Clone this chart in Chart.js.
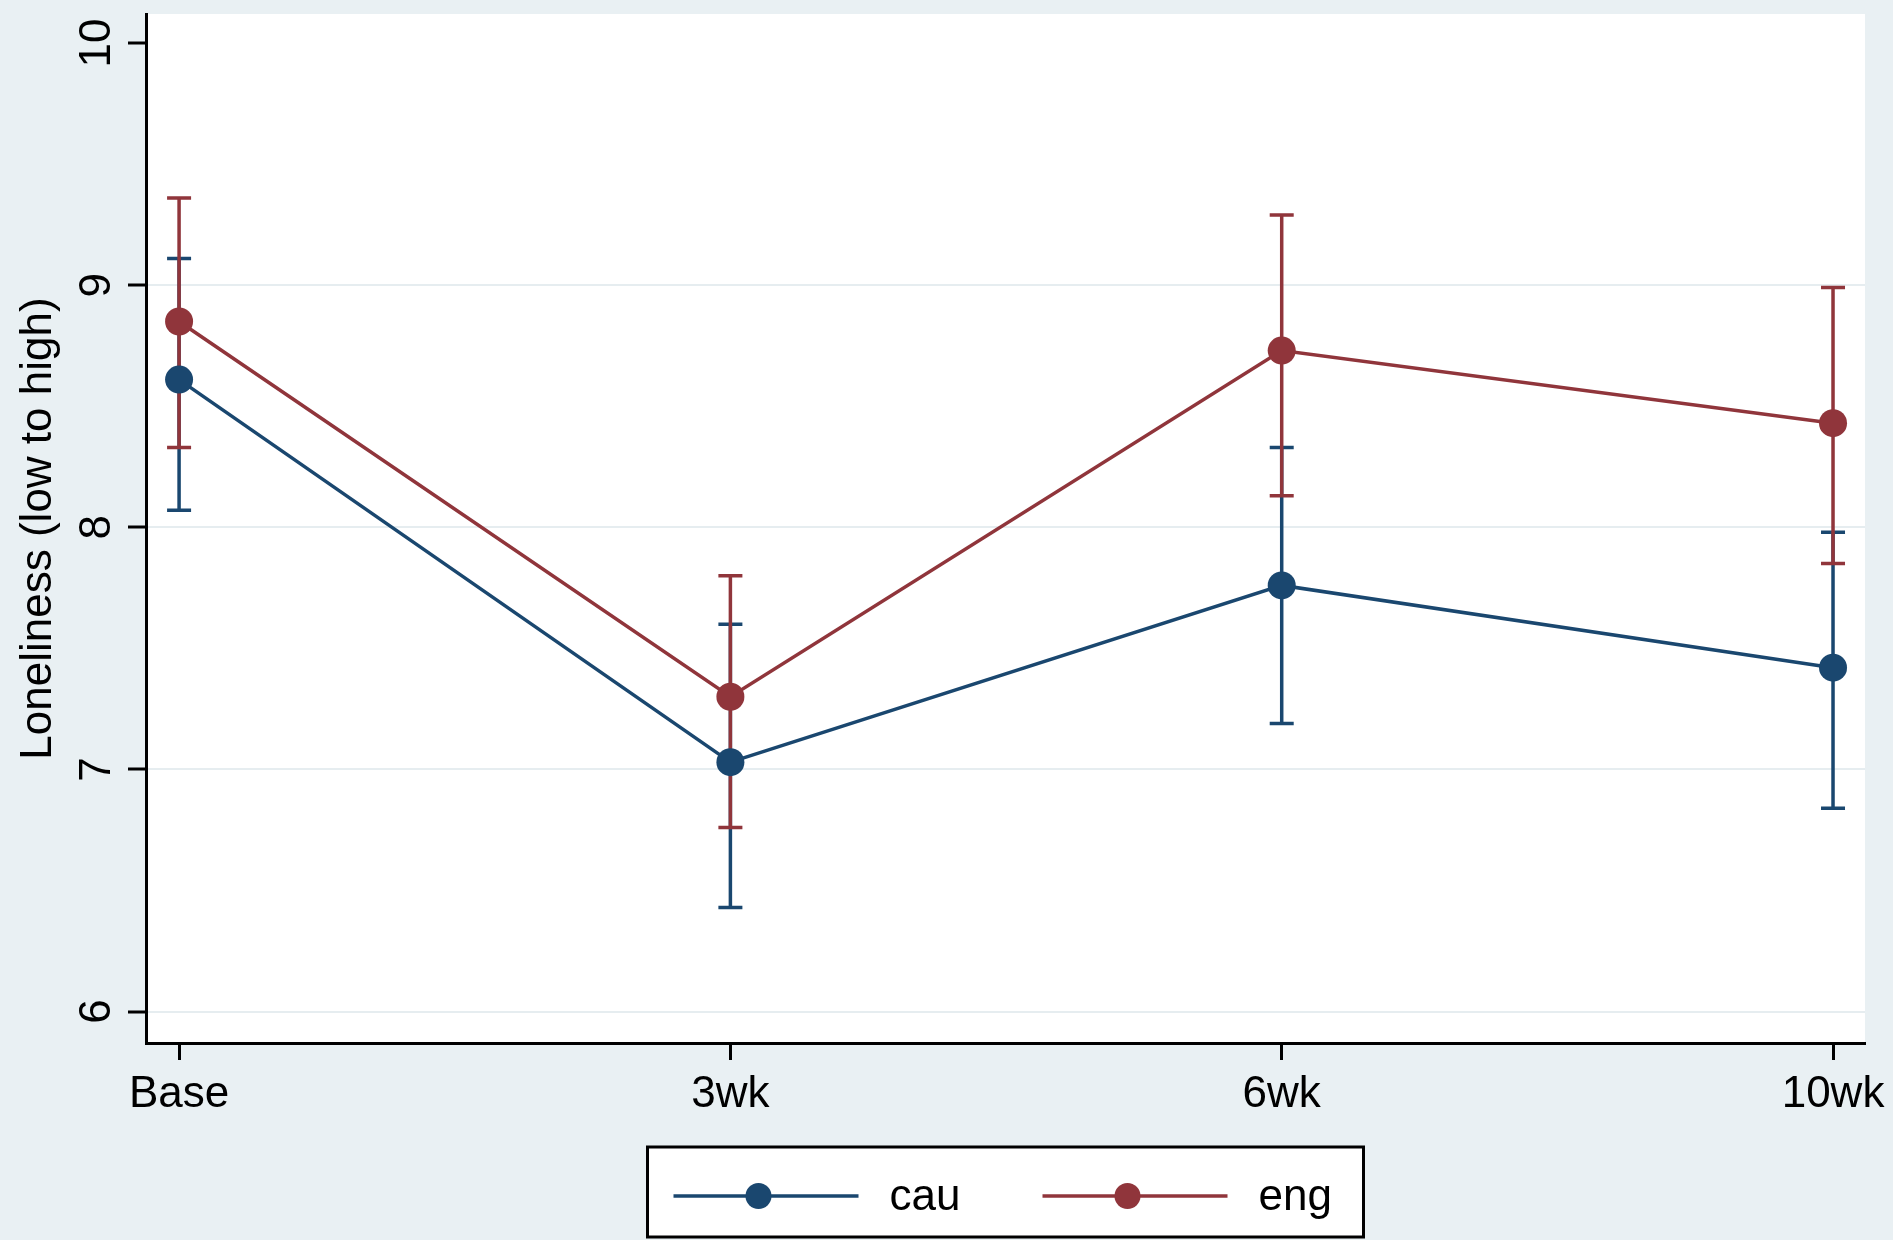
<!DOCTYPE html>
<html>
<head>
<meta charset="utf-8">
<script src="https://cdn.jsdelivr.net/npm/chart.js@4"></script>
<style>
  body { margin: 0; background: #e9f0f3; }
  canvas { display: block; }
</style>
</head>
<body>
<canvas id="chart" width="1893" height="1240"></canvas>
<script>
// time points
var labels = ['Base', '3wk', '6wk', '10wk'];
var yTicks = [6, 7, 8, 9, 10];

// cau group: mean and CI
var cauMean = [8.61, 7.03, 7.76, 7.42];
var cauLow  = [8.07, 6.43, 7.19, 6.84];
var cauHigh = [9.11, 7.60, 8.33, 7.98];

// eng group: mean and CI
var engMean = [8.85, 7.30, 8.73, 8.43];
var engLow  = [8.33, 6.76, 8.13, 7.85];
var engHigh = [9.36, 7.80, 9.29, 8.99];

var navy = '#1a476f';
var maroon = '#90353b';
var bg = '#e9f0f3';
var FONT = '"Liberation Sans", Arial, Helvetica, sans-serif';

function pts(arr) {
  return arr.map(function(v, i) { return { x: i, y: v }; });
}

// paint page background and white plot region
var bgPlugin = {
  id: 'bg',
  beforeDraw: function(chart) {
    var c = chart.ctx, a = chart.chartArea;
    c.save();
    c.fillStyle = bg;
    c.fillRect(0, 0, chart.width, chart.height);
    c.fillStyle = '#fff';
    c.fillRect(a.left, a.top, a.right - a.left, a.bottom - a.top);
    c.restore();
  }
};

// capped error bars from errLow / errHigh on each dataset
var errorBars = {
  id: 'errorBars',
  beforeDatasetsDraw: function(chart) {
    var c = chart.ctx;
    var xs = chart.scales.x, ys = chart.scales.y;
    chart.data.datasets.forEach(function(ds) {
      c.save();
      c.strokeStyle = ds.borderColor;
      c.lineWidth = 3.5;
      ds.errLow.forEach(function(lo, i) {
        var x = xs.getPixelForValue(i);
        var y1 = ys.getPixelForValue(lo);
        var y2 = ys.getPixelForValue(ds.errHigh[i]);
        c.beginPath();
        c.moveTo(x, y1); c.lineTo(x, y2);
        c.moveTo(x - 12, y1); c.lineTo(x + 12, y1);
        c.moveTo(x - 12, y2); c.lineTo(x + 12, y2);
        c.stroke();
      });
      c.restore();
    });
  }
};

// boxed legend under the plot, stata style
var boxLegend = {
  id: 'boxLegend',
  afterDraw: function(chart) {
    var c = chart.ctx, a = chart.chartArea;
    var cx = (a.left + a.right) / 2;
    var bx = cx - 358, by = a.bottom + 104;
    c.save();
    c.fillStyle = '#fff';
    c.fillRect(bx, by, 716, 90);
    c.strokeStyle = '#000';
    c.lineWidth = 3;
    c.strokeRect(bx, by, 716, 90);
    chart.data.datasets.forEach(function(ds, i) {
      var x0 = bx + 26 + i * 369, y = by + 49;
      c.strokeStyle = ds.borderColor;
      c.lineWidth = 3.5;
      c.beginPath(); c.moveTo(x0, y); c.lineTo(x0 + 185, y); c.stroke();
      c.fillStyle = ds.borderColor;
      c.beginPath(); c.arc(x0 + 85, y, 13, 0, Math.PI * 2); c.fill();
      c.fillStyle = '#000';
      c.font = '44px ' + FONT;
      c.textBaseline = 'middle';
      c.fillText(ds.label, x0 + 216, y + 2);
    });
    c.restore();
  }
};

var ctx = document.getElementById('chart').getContext('2d');
var chart = new Chart(ctx, {
  type: 'line',
  data: {
    datasets: [{
      label: 'cau',
      data: pts(cauMean),
      errLow: cauLow, errHigh: cauHigh,
      borderColor: navy, backgroundColor: navy,
      borderWidth: 3.5, pointRadius: 14, pointBorderWidth: 0
    }, {
      label: 'eng',
      data: pts(engMean),
      errLow: engLow, errHigh: engHigh,
      borderColor: maroon, backgroundColor: maroon,
      borderWidth: 3.5, pointRadius: 14, pointBorderWidth: 0
    }]
  },
  options: {
    responsive: false,
    animation: false,
    devicePixelRatio: 1,
    layout: { padding: { top: 12, right: 28, left: 0, bottom: 0 } },
    plugins: { legend: { display: false }, tooltip: { enabled: false } },
    scales: {
      x: {
        type: 'linear',
        min: -0.06, max: 3.058,
        afterBuildTicks: function(s) { s.ticks = labels.map(function(l, i) { return { value: i }; }); },
        afterFit: function(s) { s.height = 197; s.paddingLeft = 0; s.paddingRight = 0; },
        ticks: {
          callback: function(v) { return labels[v]; },
          font: { size: 44, family: FONT }, color: '#000',
          padding: 8, maxRotation: 0, autoSkip: false
        },
        grid: { drawOnChartArea: false, tickLength: 17, tickColor: '#000', tickWidth: 3 },
        border: { color: '#000', width: 3 }
      },
      y: {
        min: 5.87, max: 10.12,
        afterBuildTicks: function(s) { s.ticks = yTicks.map(function(v) { return { value: v }; }); },
        afterFit: function(s) { s.width = 146; s.paddingTop = 0; s.paddingBottom = 0; },
        ticks: {
          font: { size: 44, family: FONT }, color: '#000',
          minRotation: 90, maxRotation: 90, crossAlign: 'center', padding: 6
        },
        grid: {
          color: function(c) { return c.tick && c.tick.value === 10 ? 'rgba(0,0,0,0)' : '#e6edf0'; },
          lineWidth: 2, tickColor: '#000', tickWidth: 3, tickLength: 18
        },
        border: { color: '#000', width: 3 },
        title: {
          display: true, text: 'Loneliness (low to high)',
          font: { size: 44, family: FONT }, color: '#000',
          padding: { top: 12, bottom: 0 }
        }
      }
    }
  },
  plugins: [bgPlugin, errorBars, boxLegend]
});
</script>
</body>
</html>
